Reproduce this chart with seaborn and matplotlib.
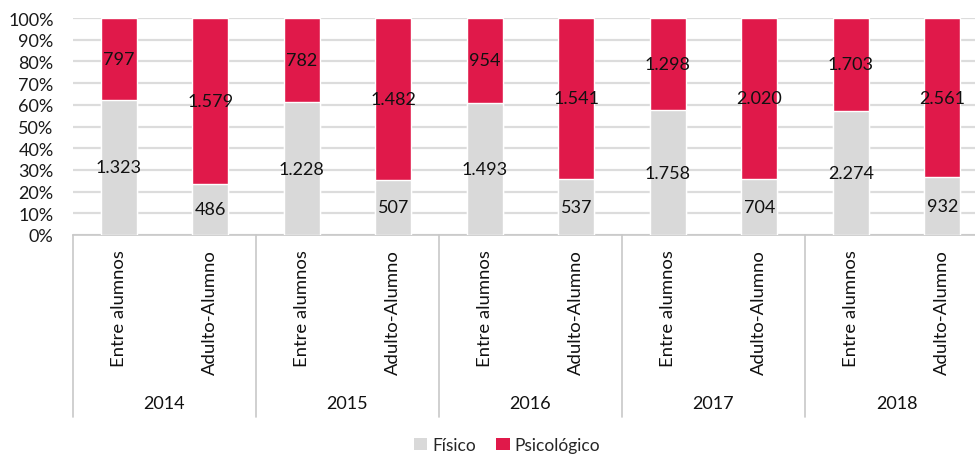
import matplotlib
matplotlib.use("Agg")
import matplotlib.pyplot as plt
import seaborn as sns
import pandas as pd
from matplotlib.patches import Patch

years = ["2014", "2015", "2016", "2017", "2018"]
types = ["Entre alumnos", "Adulto-Alumno"]
fisico = [1323, 486, 1228, 507, 1493, 537, 1758, 704, 2274, 932]
psicologico = [797, 1579, 782, 1482, 954, 1541, 1298, 2020, 1703, 2561]
y_ticks = [0, 10, 20, 30, 40, 50, 60, 70, 80, 90, 100]
y_tick_labels = ["0%", "10%", "20%", "30%", "40%", "50%", "60%", "70%", "80%", "90%", "100%"]

RED = "#E0194A"
GRAY = "#D9D9D9"
LINE = "#C8C8C8"

sns.set_style("white")
plt.rcParams["font.family"] = ["Lato", "DejaVu Sans"]

cats, yr_col, ty_col = [], [], []
for y in years:
    for t in types:
        cats.append(f"{y}|{t}")
        yr_col.append(y)
        ty_col.append(t)

df = pd.DataFrame({"cat": cats, "year": yr_col, "type": ty_col,
                   "fis": fisico, "psi": psicologico})
df["total"] = df["fis"] + df["psi"]
df["fis_pct"] = df["fis"] / df["total"] * 100
df["full"] = 100.0

W, H = 975, 456
fig = plt.figure(figsize=(W / 100, H / 100), dpi=100)
ax_left, ax_right, ax_top, ax_bottom = 73, 988, 19, 236
ax = fig.add_axes([ax_left / W, 1 - ax_bottom / H, (ax_right - ax_left) / W, (ax_bottom - ax_top) / H])

ax.set_axisbelow(True)
ax.yaxis.grid(True, color="#DCDCDC", linewidth=1.6)
sns.barplot(data=df, x="cat", y="full", order=cats, color=RED, width=0.39,
            saturation=1, ax=ax, zorder=2)
sns.barplot(data=df, x="cat", y="fis_pct", order=cats, color=GRAY, width=0.39,
            saturation=1, ax=ax, zorder=3)

ax.set_xlim(-0.5, len(cats) - 0.5)
ax.set_ylim(0, 100)
ax.set_yticks(y_ticks)
ax.set_yticklabels(y_tick_labels, fontsize=13, color="#1a1a1a")
ax.tick_params(axis="y", length=0, pad=14)
ax.set_xticks([])
ax.set_xlabel("")
ax.set_ylabel("")
for s in ["left", "right", "top"]:
    ax.spines[s].set_visible(False)
ax.spines["bottom"].set_color(LINE)
ax.spines["bottom"].set_linewidth(1.2)


def fmt(v):
    return f"{v:,}".replace(",", ".")


for i, row in df.iterrows():
    ax.text(i, row["fis_pct"] / 2, fmt(row["fis"]), ha="center", va="center",
            fontsize=13, color="#111111", zorder=5)
    ax.text(i, row["fis_pct"] + (100 - row["fis_pct"]) / 2, fmt(row["psi"]),
            ha="center", va="center", fontsize=13, color="#111111", zorder=5)

# multi-level category axis
axh = ax_bottom - ax_top


def yfrac(px):
    return (ax_bottom - px) / axh


bottom_frac = yfrac(418)
trans = ax.get_xaxis_transform()
for g in range(len(years) + 1):
    xb = g * 2 - 0.5
    ax.plot([xb, xb], [0, bottom_frac], transform=trans, color=LINE,
            linewidth=1.2, clip_on=False)

for i, row in df.iterrows():
    ax.text(i, yfrac(250), row["type"], rotation=90, ha="center", va="top",
            fontsize=13.3, color="#111111", transform=trans)

for g, y in enumerate(years):
    ax.text(g * 2 + 0.5, yfrac(404), y, ha="center", va="center",
            fontsize=13, color="#111111", transform=trans)

handles = [Patch(facecolor=GRAY, edgecolor="none", label="Físico"),
           Patch(facecolor=RED, edgecolor="none", label="Psicológico")]
fig.legend(handles=handles, loc="center", bbox_to_anchor=(507 / W, 1 - 446 / H),
           ncol=2, frameon=False, fontsize=12.5, handlelength=0.75,
           handleheight=0.75, handletextpad=0.3, columnspacing=1.2)

fig.savefig("out.png", dpi=100)
